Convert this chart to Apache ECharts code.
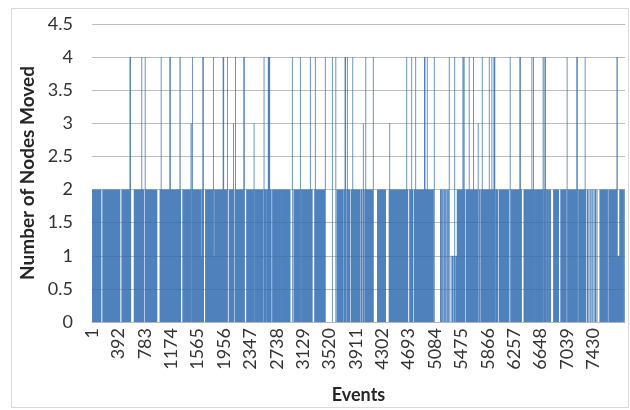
<!DOCTYPE html>
<html>
<head>
<meta charset="utf-8">
<script src="https://cdn.jsdelivr.net/npm/echarts@6/dist/echarts.min.js"></script>
<style>
html,body{margin:0;padding:0;background:#fff;}
#chart{width:630px;height:410px;}
</style>
</head>
<body>
<div id="chart"></div>
<script>
// ---- data ----
const N_EVENTS = 7900;          // events 1..N
const BASE_VALUE = 2;           // most events move 2 nodes
// runs of events [first, last] (inclusive) whose value differs from the base
const ZERO_RUNS = [
  [137,156],[270,275],[418,439],[578,622],[770,784],[966,1005],[1140,1145],[1318,1342],
  [1476,1483],[1658,1679],[2012,2029],[2102,2115],[2264,2288],[2407,2414],[2535,2544],
  [2590,2597],[2660,2673],[2807,2813],[2940,2989],[3095,3102],[3268,3297],[3459,3628],
  [3725,3734],[3766,3775],[3824,3838],[3975,3986],[4000,4011],[4035,4044],[4174,4228],
  [4356,4400],[4685,4704],[4760,4774],[5063,5161],[5170,5178],[5190,5198],[5210,5222],
  [5232,5240],[5252,5262],[5272,5282],[5292,5410],[5528,5542],[5730,5740],[5755,5765],
  [5975,5982],[6020,6035],[6178,6191],[6203,6212],[6370,6399],[6552,6558],
  [6695,6702],[6730,6737],[6760,6767],[6800,6838],[6920,6944],[7030,7039],[7048,7055],
  [7200,7209],[7325,7340],[7350,7361],[7372,7388],[7398,7409],[7420,7436],[7446,7457],
  [7468,7480],[7490,7524],[7645,7656],[7882,7892]
];
const ONE_RUNS = [
  [1618,1627],[1805,1814],[5320,5327],[5340,5347],[5360,5367],[5380,5387],[5398,5405],
  [7790,7818]
];
const THREE_RUNS = [
  [1465,1474],[2094,2099],[2400,2405],[4019,4024],[4411,4416],[5722,5727]
];
const FOUR_RUNS = [
  [560,574],[736,741],[786,791],[1023,1028],[1151,1165],[1301,1310],[1486,1491],[1640,1654],
  [1797,1802],[1941,1955],[2005,2010],[2124,2129],[2247,2261],[2548,2553],[2610,2637],
  [2967,2972],[3086,3091],[3234,3239],[3308,3313],[3456,3461],[3560,3565],[3612,3617],
  [3748,3762],[3783,3788],[3863,3868],[4056,4061],[4167,4172],[4663,4668],[4737,4742],
  [4796,4801],[4925,4939],[4967,4972],[5071,5076],[5293,5298],[5374,5379],[5495,5502],
  [5512,5519],[5589,5594],[5653,5658],[5782,5787],[5886,5891],[5925,5930],[5955,5974],
  [6196,6201],[6339,6353],[6518,6523],[6541,6546],[6684,6691],[6710,6724],[7040,7045],
  [7183,7197],[7307,7312],[7778,7789]
];
const Y_TICKS = [0,0.5,1,1.5,2,2.5,3,3.5,4,4.5];
const LABEL_STEP = 391;         // x labels: 1, 392, 783, ... 7430
const LAST_LABEL = 7430;
const X_TITLE = 'Events';
const Y_TITLE = 'Number of Nodes Moved';

// ---- build series from the runs ----
const categories = [];
const values = [];
for (let i = 1; i <= N_EVENTS; i++) { categories.push(String(i)); values.push(BASE_VALUE); }
function applyRuns(runs, v) {
  runs.forEach(function (r) {
    for (let e = r[0]; e <= r[1]; e++) { if (e >= 1 && e <= N_EVENTS) values[e - 1] = v; }
  });
}
applyRuns(ZERO_RUNS, 0);
applyRuns(ONE_RUNS, 1);
applyRuns(THREE_RUNS, 3);
applyRuns(FOUR_RUNS, 4);

const yMin = Y_TICKS[0], yMax = Y_TICKS[Y_TICKS.length - 1], yStep = Y_TICKS[1] - Y_TICKS[0];

const chart = echarts.init(document.getElementById('chart'), null, {renderer: 'canvas'});
chart.setOption({
  animation: false,
  backgroundColor: '#ffffff',
  textStyle: {fontFamily: 'Lato'},
  graphic: [{
    type: 'rect', z: -10, silent: true,
    shape: {x: 11.5, y: 8.5, width: 617, height: 399},
    style: {fill: 'none', stroke: '#d9d9d9', lineWidth: 1}
  }],
  grid: {left: 92, right: 5, top: 24, bottom: 88, containLabel: false},
  xAxis: {
    type: 'category',
    data: categories,
    name: X_TITLE,
    nameLocation: 'middle',
    nameGap: 64,
    nameTextStyle: {fontFamily: 'Lato', fontWeight: 'bold', fontSize: 18, color: '#262626'},
    axisLine: {show: true, lineStyle: {color: '#c8c8c8', width: 1}},
    axisTick: {show: false},
    axisLabel: {
      interval: function (idx) { return idx % LABEL_STEP === 0 && idx + 1 <= LAST_LABEL; },
      rotate: 90,
      margin: 6,
      padding: [14, 0, 0, 0],
      fontFamily: 'Lato', fontSize: 18, color: '#333333'
    },
    splitLine: {show: false}
  },
  yAxis: [{
    type: 'value',
    min: yMin, max: yMax, interval: yStep,
    name: Y_TITLE,
    nameLocation: 'middle',
    nameRotate: 90,
    nameGap: 41,
    nameTextStyle: {fontFamily: 'Lato', fontWeight: 'bold', fontSize: 19, color: '#262626'},
    axisLine: {show: false},
    axisTick: {show: false},
    axisLabel: {margin: 19, fontFamily: 'Lato', fontSize: 18, color: '#333333'},
    splitLine: {show: true, lineStyle: {color: '#d0d0d0', width: 1}}
  }, {
    type: 'value',
    position: 'left',
    min: yMin, max: yMax, interval: yStep,
    z: 5,
    axisLine: {show: false},
    axisTick: {show: false},
    axisLabel: {show: false},
    splitLine: {show: true, lineStyle: {color: 'rgba(20,30,50,0.10)', width: 1}}
  }],
  series: [{
    type: 'bar',
    data: values,
    large: true,
    largeThreshold: 100,
    progressive: 0,
    barCategoryGap: '0%',
    itemStyle: {color: '#4f81bd'}
  }]
});
</script>
</body>
</html>
